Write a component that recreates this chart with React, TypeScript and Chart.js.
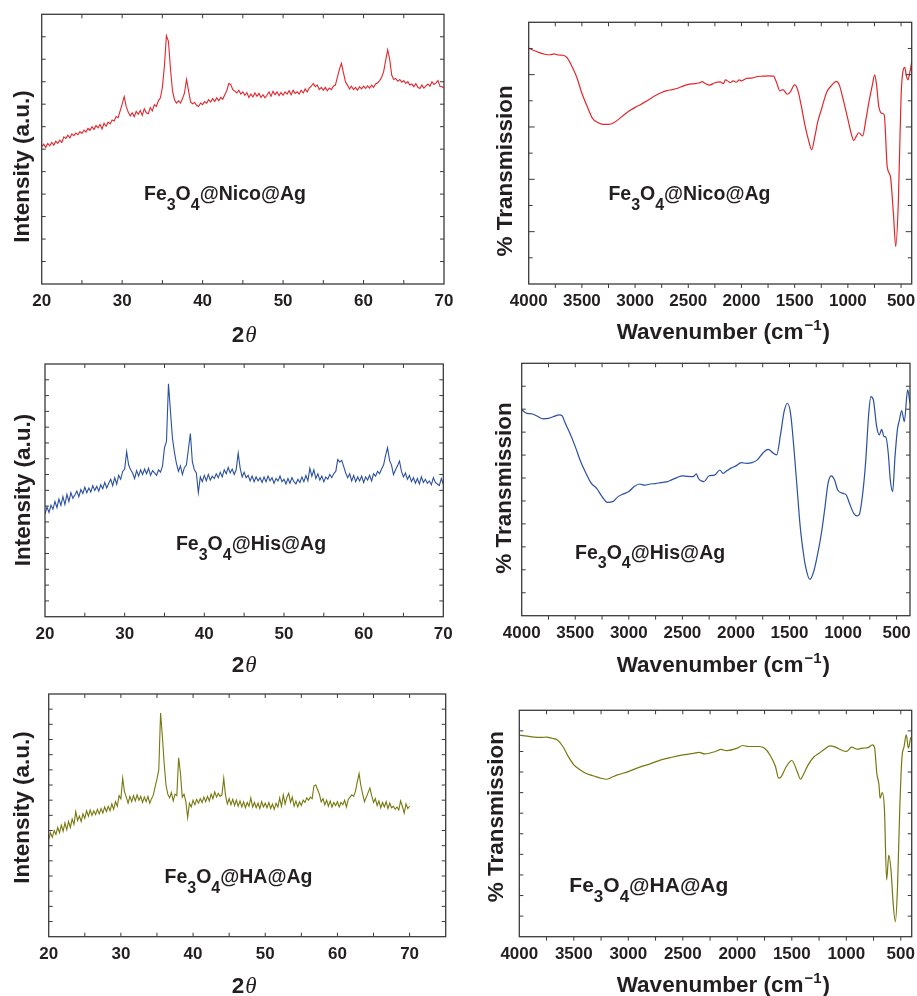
import React, { useEffect, useRef } from 'react';
import { Chart, registerables } from 'chart.js';

Chart.register(...registerables);

const FONT = "'Liberation Sans', Arial, Helvetica, sans-serif";
const SERIF = "'Liberation Serif', 'Times New Roman', serif";
const TEXT_COLOR = '#231f20';
const AXIS_COLOR = '#3a3a3a';

const RED = '#e3262c';
const BLUE = '#2a4fa3';
const OLIVE = '#77780f';

// ---------- XRD data (2θ from 20 to 70, 0.25° sampling) ----------
const XRD_START = 20;
const XRD_STEP = 0.25;

const XRD_NICO = [
  6.11, 6.22, 6.08, 6.25, 6.15, 6.30, 6.18, 6.35,
  6.26, 6.40, 6.30, 6.55, 6.48, 6.62, 6.50, 6.68,
  6.60, 6.72, 6.64, 6.78, 6.70, 6.85, 6.76, 6.92,
  6.84, 7.00, 6.88, 7.05, 6.95, 7.10, 6.90, 7.15,
  7.02, 7.20, 7.12, 7.30, 7.25, 7.45, 7.40, 7.70,
  8.00, 8.34, 7.90, 7.65, 7.48, 7.62, 7.45, 7.68,
  7.55, 7.72, 7.50, 7.80, 7.62, 7.58, 7.85, 7.70,
  7.98, 7.90, 8.15, 8.28, 8.75, 9.70, 11.05, 10.80,
  9.60, 8.60, 8.20, 8.05, 8.15, 8.05, 8.25, 8.50,
  9.10, 8.60, 8.10, 8.02, 8.08, 7.95, 7.90, 8.05,
  7.98, 8.12, 8.05, 8.20, 8.10, 8.25, 8.12, 8.28,
  8.15, 8.30, 8.22, 8.42, 8.60, 8.92, 8.88, 8.65,
  8.58, 8.50, 8.62, 8.45, 8.55, 8.40, 8.52, 8.30,
  8.45, 8.32, 8.50, 8.35, 8.48, 8.30, 8.42, 8.28,
  8.40, 8.55, 8.35, 8.58, 8.42, 8.55, 8.38, 8.52,
  8.40, 8.55, 8.45, 8.60, 8.42, 8.62, 8.48, 8.55,
  8.45, 8.62, 8.50, 8.68, 8.55, 8.72, 8.80, 8.92,
  8.78, 8.85, 8.65, 8.75, 8.62, 8.75, 8.60, 8.72,
  8.65, 8.80, 8.85, 9.20, 9.55, 9.82, 9.40, 9.00,
  8.85, 8.68, 8.80, 8.65, 8.75, 8.62, 8.78, 8.68,
  8.80, 8.70, 8.82, 8.72, 8.85, 8.75, 8.90, 8.95,
  9.05, 9.20, 9.45, 9.95, 10.42, 10.00, 9.30, 9.10,
  9.15, 9.02, 9.10, 8.98, 9.05, 8.92, 9.00, 8.85,
  8.90, 8.78, 8.92, 8.75, 8.70, 8.85, 8.72, 8.82,
  8.90, 8.80, 9.00, 8.88, 8.95, 9.05, 8.80, 8.78,
  8.72,
];

const XRD_HIS = [
  6.50, 6.95, 6.60, 7.05, 6.80, 7.30, 6.90, 7.45,
  7.05, 7.60, 7.10, 7.75, 7.30, 7.85, 7.50, 7.70,
  7.95, 7.60, 8.05, 7.80, 8.20, 7.85, 8.15, 7.90,
  8.30, 8.00, 8.25, 7.95, 8.35, 8.10, 8.50, 8.15,
  8.45, 8.70, 8.30, 8.80, 8.40, 8.95, 8.70, 9.20,
  9.35, 10.45, 9.60, 9.30, 9.10, 8.75, 9.25, 8.90,
  9.30, 9.00, 9.35, 9.05, 9.40, 8.95, 9.25, 9.10,
  8.95, 9.30, 9.15, 9.55, 10.70, 11.10, 14.75, 13.00,
  11.30, 10.40, 9.70, 9.20, 9.55, 9.00, 9.45, 9.60,
  10.60, 11.60, 9.80, 9.30, 9.10, 7.85, 8.85, 8.55,
  8.95, 8.60, 9.00, 8.65, 8.90, 8.75, 9.05, 8.80,
  9.15, 8.85, 9.30, 9.05, 9.45, 9.10, 9.35, 9.00,
  9.30, 10.35, 9.40, 8.85, 9.15, 8.80, 8.95, 8.60,
  8.90, 8.55, 8.85, 8.60, 8.80, 8.50, 8.85, 8.55,
  8.90, 8.60, 8.80, 8.45, 8.75, 8.60, 8.90, 8.55,
  8.70, 8.40, 8.75, 8.45, 8.80, 8.55, 8.40, 8.70,
  8.50, 8.85, 8.55, 8.95, 8.60, 9.40, 8.90, 9.30,
  8.75, 9.05, 8.65, 8.90, 8.55, 8.85, 8.70, 9.00,
  8.80, 9.05, 9.20, 9.95, 9.80, 9.90, 9.50, 9.10,
  8.80, 9.05, 8.60, 8.95, 8.55, 8.85, 8.60, 8.90,
  8.50, 8.85, 8.65, 8.95, 8.60, 9.05, 8.90, 9.20,
  9.05, 9.35, 9.60, 10.20, 10.70, 9.90, 9.60, 9.00,
  9.30, 9.55, 9.85, 9.20, 8.85, 9.10, 8.70, 8.95,
  8.55, 8.80, 8.45, 8.75, 8.40, 8.85, 8.50, 8.70,
  8.45, 8.60, 8.35, 8.80, 8.50, 8.40, 8.30, 8.75,
  8.40,
];

const XRD_HA = [
  6.40, 6.85, 6.55, 7.00, 6.75, 7.20, 6.85, 7.35,
  6.95, 7.50, 7.05, 7.60, 7.20, 7.75, 7.40, 8.25,
  7.65, 7.95, 7.60, 8.10, 7.80, 8.30, 7.95, 8.35,
  8.00, 8.30, 8.05, 8.40, 8.10, 8.45, 8.15, 8.55,
  8.25, 8.60, 8.30, 8.75, 8.40, 8.90, 8.60, 9.30,
  9.10, 10.45, 9.55, 9.20, 8.80, 9.25, 8.90, 9.30,
  8.95, 9.35, 9.00, 9.25, 8.85, 9.20, 8.90, 9.25,
  8.80, 9.10, 9.35, 9.90, 10.40, 11.00, 14.75, 13.20,
  11.40, 10.00, 9.40, 9.15, 9.50, 8.95, 9.40, 9.30,
  11.80, 10.80, 9.20, 9.40, 8.90, 7.85, 8.80, 8.55,
  9.00, 8.70, 9.05, 8.80, 9.10, 8.85, 9.20, 8.90,
  9.25, 8.95, 9.40, 9.10, 9.55, 9.20, 9.45, 9.25,
  9.35, 10.45, 9.30, 8.75, 9.10, 8.70, 9.05, 8.65,
  9.00, 8.60, 8.95, 8.55, 8.90, 8.50, 8.85, 8.60,
  9.15, 8.55, 8.85, 8.50, 8.80, 8.45, 8.90, 8.55,
  8.80, 8.50, 8.85, 8.45, 8.75, 8.40, 8.80, 8.55,
  9.15, 8.60, 9.35, 8.75, 9.20, 9.45, 8.85, 9.20,
  8.60, 8.95, 8.55, 8.90, 8.65, 9.00, 8.85, 9.15,
  9.00, 9.20, 9.10, 9.95, 10.00, 9.70, 9.40, 8.90,
  9.10, 8.70, 9.00, 8.60, 8.95, 8.55, 8.85, 8.65,
  8.90, 8.55, 8.85, 8.70, 9.00, 8.55, 9.05, 9.20,
  9.35, 9.25, 9.60, 10.20, 10.75, 9.95, 9.40, 8.90,
  9.20, 9.50, 9.80, 9.30, 8.85, 9.10, 8.65, 8.95,
  8.50, 8.85, 8.55, 8.90, 8.45, 8.80, 8.50, 8.60,
  8.40, 8.55, 8.35, 8.95, 8.60, 8.15, 8.75, 8.45,
  8.60,
];

// ---------- FTIR data: [wavenumber (cm-1), % transmission (a.u.)] ----------
const FTIR_NICO: [number, number][] = [
  [4000, 90.1], [3950, 89.2], [3900, 88.4], [3850, 87.8], [3800, 87.6], [3760, 87.9],
  [3720, 87.5], [3680, 87.4], [3640, 86.5], [3600, 83.7], [3550, 79.2], [3500, 72.9],
  [3450, 67.8], [3400, 63.3], [3350, 61.7], [3300, 61.0], [3250, 61.0], [3200, 61.6],
  [3150, 63.1], [3100, 64.8], [3050, 66.3], [3000, 67.5], [2950, 68.5], [2900, 69.7],
  [2850, 71.0], [2800, 72.2], [2750, 73.2], [2700, 73.9], [2650, 74.3], [2600, 74.8],
  [2550, 75.6], [2500, 76.3], [2450, 76.5], [2400, 76.8], [2370, 77.3], [2340, 76.6],
  [2300, 76.0], [2250, 76.9], [2200, 77.2], [2170, 76.6], [2150, 78.0], [2120, 77.3],
  [2100, 77.0], [2080, 77.6], [2050, 77.1], [2020, 78.0], [2000, 77.6], [1950, 78.6],
  [1900, 78.7], [1850, 79.3], [1800, 79.4], [1750, 79.5], [1700, 79.4], [1670, 77.0],
  [1640, 73.8], [1610, 74.3], [1570, 72.5], [1540, 73.5], [1500, 76.1], [1470, 74.0],
  [1440, 68.5], [1400, 60.0], [1370, 55.0], [1340, 51.3], [1310, 56.5], [1280, 62.5],
  [1250, 66.5], [1200, 73.2], [1150, 76.0], [1110, 77.4], [1080, 76.0], [1050, 71.5],
  [1000, 63.0], [960, 56.2], [946, 54.8], [920, 56.5], [898, 57.8], [861, 56.6],
  [830, 63.0], [800, 70.0], [770, 76.0], [748, 79.9], [730, 76.0], [710, 68.0],
  [680, 65.2], [658, 64.6], [630, 44.8], [600, 41.0], [570, 25.7], [550, 14.3],
  [525, 32.1], [500, 71.6], [480, 81.8], [465, 82.8], [450, 79.5], [435, 78.0],
  [420, 80.5], [410, 82.5], [400, 85.0],
];

const FTIR_HIS: [number, number][] = [
  [4000, 89.7], [3950, 88.2], [3900, 87.9], [3850, 86.8], [3800, 85.8], [3750, 86.0],
  [3700, 86.8], [3650, 87.5], [3620, 87.0], [3600, 84.6], [3550, 79.5], [3500, 73.7],
  [3450, 67.2], [3400, 62.1], [3350, 57.7], [3300, 55.5], [3250, 51.9], [3200, 49.4],
  [3150, 49.7], [3100, 51.9], [3050, 53.1], [3000, 54.1], [2950, 56.3], [2900, 57.4],
  [2850, 56.9], [2800, 57.4], [2750, 57.6], [2700, 58.0], [2650, 58.3], [2600, 59.2],
  [2550, 60.2], [2500, 60.9], [2450, 60.7], [2400, 60.6], [2370, 61.8], [2350, 59.8],
  [2300, 58.4], [2250, 61.0], [2200, 61.3], [2150, 63.5], [2120, 62.0], [2100, 62.6],
  [2050, 64.2], [2000, 65.3], [1950, 66.7], [1900, 66.4], [1850, 66.7], [1800, 67.9],
  [1750, 70.8], [1700, 72.5], [1650, 70.8], [1620, 70.1], [1582, 79.5], [1550, 89.0],
  [1520, 92.6], [1490, 88.2], [1460, 73.7], [1430, 56.3], [1400, 38.8], [1370, 27.2],
  [1350, 21.4], [1310, 15.8], [1270, 19.9], [1230, 28.6], [1200, 36.6], [1170, 46.8],
  [1140, 57.7], [1110, 60.9], [1080, 59.2], [1050, 54.8], [1000, 53.3], [970, 52.6],
  [940, 49.0], [900, 44.6], [870, 43.5], [850, 43.9], [820, 51.9], [790, 66.4],
  [760, 88.2], [740, 95.5], [717, 94.0], [686, 82.4], [661, 78.8], [640, 81.2],
  [618, 78.1], [600, 77.8], [578, 70.8], [559, 59.2], [537, 54.1], [515, 69.3],
  [493, 81.0], [475, 85.0], [453, 89.4], [428, 84.6], [397, 98.4], [375, 92.6],
];

const FTIR_HA: [number, number][] = [
  [4000, 97.9], [3900, 97.2], [3800, 96.8], [3750, 97.0], [3700, 96.4], [3650, 95.6],
  [3600, 92.4], [3550, 87.5], [3500, 83.5], [3450, 81.4], [3400, 79.7], [3350, 78.6],
  [3300, 77.8], [3250, 77.0], [3200, 76.5], [3150, 77.5], [3100, 78.6], [3000, 80.2],
  [2900, 82.3], [2800, 84.0], [2700, 85.9], [2600, 87.2], [2500, 88.3], [2400, 89.1],
  [2350, 89.6], [2300, 88.8], [2200, 90.0], [2150, 91.0], [2100, 90.4], [2000, 91.6],
  [1950, 92.9], [1900, 92.4], [1800, 92.4], [1750, 91.6], [1700, 88.3], [1650, 82.7],
  [1620, 77.0], [1600, 77.5], [1550, 82.7], [1500, 85.6], [1450, 80.2], [1420, 76.5],
  [1400, 78.1], [1350, 83.5], [1300, 87.2], [1250, 89.1], [1200, 91.1], [1150, 92.7],
  [1100, 92.1], [1050, 90.8], [1000, 90.0], [950, 92.1], [900, 91.1], [850, 91.6],
  [800, 91.9], [760, 93.2], [740, 91.6], [720, 79.4], [700, 73.7], [690, 67.3],
  [670, 70.0], [650, 61.6], [630, 27.6], [610, 39.7], [590, 32.4], [570, 16.2],
  [550, 7.3], [530, 24.3], [510, 61.6], [490, 86.7], [470, 92.4], [450, 98.1],
  [430, 91.6], [410, 96.4], [400, 97.2],
];

// ---------- Tick labels / titles ----------
const XRD_TICKS = [20, 30, 40, 50, 60, 70];
const FTIR_TICKS = [4000, 3500, 3000, 2500, 2000, 1500, 1000, 500];
const XRD_MINOR_STEP = 5;
const FTIR_MINOR_STEP = 250;
const Y_TITLE_XRD = 'Intensity (a.u.)';
const Y_TITLE_FTIR = '% Transmission';
const SAMPLE_NICO = 'Nico';
const SAMPLE_HIS = 'His';
const SAMPLE_HA = 'HA';

type Rect = { x: number; y: number; w: number; h: number };
type PlotBox = { l: number; r: number; t: number; b: number };

type Panel = {
  canvas: Rect;
  plot: PlotBox;
  kind: 'xrd' | 'ftir';
  points: { x: number; y: number }[];
  color: string;
  xMin: number;
  xMax: number;
  yMax: number;
  yStep: number;
  yTitle: string;
  yTitlePos: { bx: number; cy: number };
  xTitlePos: { x0: number; baseline: number };
  sample: string;
  labelAt: { x: number; y: number };
  labelSize: number;
};

const xrdPoints = (vals: number[]) => vals.map((v, i) => ({ x: XRD_START + i * XRD_STEP, y: v }));
const ftirPoints = (pairs: [number, number][]) => pairs.map(([w, t]) => ({ x: w, y: t }));

const PANELS: Panel[] = [
  {
    canvas: { x: 0, y: 0, w: 460, h: 350 },
    plot: { l: 41.7, r: 444, t: 14.3, b: 284 },
    kind: 'xrd', points: xrdPoints(XRD_NICO), color: RED,
    xMin: 20, xMax: 70, yMax: 12, yStep: 1,
    yTitle: Y_TITLE_XRD, yTitlePos: { bx: 29, cy: 166.5 },
    xTitlePos: { x0: 231.7, baseline: 341.5 },
    sample: SAMPLE_NICO, labelAt: { x: 32.71, y: 3.74 }, labelSize: 19.5,
  },
  {
    canvas: { x: 460, y: 0, w: 457, h: 350 },
    plot: { l: 528.7, r: 911.7, t: 22.3, b: 284 },
    kind: 'ftir', points: ftirPoints(FTIR_NICO), color: RED,
    xMin: 400, xMax: 4000, yMax: 100, yStep: 10,
    yTitle: Y_TITLE_FTIR, yTitlePos: { bx: 512, cy: 170.8 },
    xTitlePos: { x0: 616.7, baseline: 339.3 },
    sample: SAMPLE_NICO, labelAt: { x: 3251, y: 32.0 }, labelSize: 19.5,
  },
  {
    canvas: { x: 0, y: 334, w: 460, h: 346 },
    plot: { l: 45, r: 443.3, t: 364, b: 616.7 },
    kind: 'xrd', points: xrdPoints(XRD_HIS), color: BLUE,
    xMin: 20, xMax: 70, yMax: 16, yStep: 1,
    yTitle: Y_TITLE_XRD, yTitlePos: { bx: 29.5, cy: 490 },
    xTitlePos: { x0: 231.7, baseline: 671.7 },
    sample: SAMPLE_HIS, labelAt: { x: 36.44, y: 4.21 }, labelSize: 19.5,
  },
  {
    canvas: { x: 460, y: 334, w: 457, h: 346 },
    plot: { l: 521.7, r: 910, t: 363.3, b: 615.7 },
    kind: 'ftir', points: ftirPoints(FTIR_HIS), color: BLUE,
    xMin: 375, xMax: 4000, yMax: 110, yStep: 10,
    yTitle: Y_TITLE_FTIR, yTitlePos: { bx: 510.5, cy: 488 },
    xTitlePos: { x0: 616.7, baseline: 671.7 },
    sample: SAMPLE_HIS, labelAt: { x: 3502, y: 24.9 }, labelSize: 19.5,
  },
  {
    canvas: { x: 0, y: 664, w: 460, h: 332 },
    plot: { l: 48.7, r: 445.7, t: 694, b: 936.7 },
    kind: 'xrd', points: xrdPoints(XRD_HA), color: OLIVE,
    xMin: 20, xMax: 75, yMax: 16, yStep: 1,
    yTitle: Y_TITLE_XRD, yTitlePos: { bx: 28.7, cy: 807.5 },
    xTitlePos: { x0: 231.7, baseline: 992.5 },
    sample: SAMPLE_HA, labelAt: { x: 36.04, y: 3.51 }, labelSize: 19.5,
  },
  {
    canvas: { x: 460, y: 664, w: 457, h: 332 },
    plot: { l: 519.3, r: 911.7, t: 710.3, b: 936.7 },
    kind: 'ftir', points: ftirPoints(FTIR_HA), color: OLIVE,
    xMin: 400, xMax: 4000, yMax: 110, yStep: 10,
    yTitle: Y_TITLE_FTIR, yTitlePos: { bx: 503, cy: 816.7 },
    xTitlePos: { x0: 616.7, baseline: 991.5 },
    sample: SAMPLE_HA, labelAt: { x: 3541, y: 21.8 }, labelSize: 21,
  },
];

function makeDecor(p: Panel) {
  return {
    id: 'decor',
    afterDraw(chart: any) {
      const { ctx, chartArea: a, scales } = chart;
      const xs = scales.x;
      const ys = scales.y;
      const ox = p.canvas.x;
      const oy = p.canvas.y;
      ctx.save();

      // frame
      ctx.strokeStyle = AXIS_COLOR;
      ctx.lineWidth = 1.3;
      ctx.strokeRect(a.left, a.top, a.right - a.left, a.bottom - a.top);

      // ticks
      ctx.lineWidth = 1;
      ctx.beginPath();
      const minor = p.kind === 'xrd' ? XRD_MINOR_STEP : FTIR_MINOR_STEP;
      const lo = Math.ceil(p.xMin / minor);
      const hi = Math.floor(p.xMax / minor);
      const bottomDir = p.kind === 'xrd' ? -1 : 1;
      for (let k = lo; k <= hi; k++) {
        const v = k * minor;
        const px = xs.getPixelForValue(v);
        if (px < a.left + 0.5 || px > a.right - 0.5) continue;
        const len = 4;
        ctx.moveTo(px, a.bottom);
        ctx.lineTo(px, a.bottom + bottomDir * len);
        ctx.moveTo(px, a.top);
        ctx.lineTo(px, a.top + len);
      }
      const ny = Math.round(p.yMax / p.yStep);
      for (let k = 1; k < ny; k++) {
        const py = ys.getPixelForValue(k * p.yStep);
        const len = p.kind === 'ftir' && k % 2 === 0 && p.yMax === 100 ? 6 : 4;
        ctx.moveTo(a.left, py);
        ctx.lineTo(a.left + len, py);
        ctx.moveTo(a.right, py);
        ctx.lineTo(a.right - len, py);
      }
      ctx.stroke();

      ctx.fillStyle = TEXT_COLOR;
      ctx.textBaseline = 'alphabetic';

      // sample label with subscripts
      const lx = xs.getPixelForValue(p.labelAt.x);
      const ly = ys.getPixelForValue(p.labelAt.y);
      const main = p.labelSize;
      const sub = Math.round(main * 0.82);
      const parts: [string, boolean][] = [
        ['Fe', false], ['3', true], ['O', false], ['4', true], ['@' + p.sample + '@Ag', false],
      ];
      ctx.textAlign = 'left';
      let cx = lx;
      for (const [txt, isSub] of parts) {
        ctx.font = `bold ${isSub ? sub : main}px ${FONT}`;
        ctx.fillText(txt, cx, isSub ? ly + main * 0.5 : ly);
        cx += ctx.measureText(txt).width;
      }

      // y title
      ctx.save();
      ctx.translate(p.yTitlePos.bx - ox, p.yTitlePos.cy - oy);
      ctx.rotate(-Math.PI / 2);
      ctx.font = `bold 22.5px ${FONT}`;
      ctx.textAlign = 'center';
      ctx.fillText(p.yTitle, 0, 0);
      ctx.restore();

      // x title
      const tx = p.xTitlePos.x0 - ox;
      const ty = p.xTitlePos.baseline - oy;
      ctx.textAlign = 'left';
      if (p.kind === 'xrd') {
        ctx.font = `bold 22.5px ${FONT}`;
        ctx.fillText('2', tx, ty);
        const w2 = ctx.measureText('2').width;
        ctx.font = `italic 23px ${SERIF}`;
        ctx.fillText('θ', tx + w2 + 1, ty);
      } else {
        ctx.font = `bold 22.5px ${FONT}`;
        const a1 = 'Wavenumber (cm';
        ctx.fillText(a1, tx, ty);
        let x2 = tx + ctx.measureText(a1).width + 1;
        ctx.font = `bold 15px ${FONT}`;
        ctx.fillText('\u22121', x2, ty - 9);
        x2 += ctx.measureText('\u22121').width + 1;
        ctx.font = `bold 22.5px ${FONT}`;
        ctx.fillText(')', x2, ty);
      }
      ctx.restore();
    },
  };
}

function PanelChart({ p }: { p: Panel }) {
  const ref = useRef<HTMLCanvasElement | null>(null);
  useEffect(() => {
    if (!ref.current) return;
    const yW = p.plot.l - p.canvas.x;
    const xH = p.canvas.y + p.canvas.h - p.plot.b;
    const padTop = p.plot.t - p.canvas.y;
    const padRight = p.canvas.x + p.canvas.w - p.plot.r;
    const isFtir = p.kind === 'ftir';
    const tickValues = isFtir ? FTIR_TICKS : XRD_TICKS;
    const chart = new Chart(ref.current, {
      type: 'line',
      data: {
        datasets: [
          {
            data: p.points,
            borderColor: p.color,
            borderWidth: isFtir ? 1.2 : 1.1,
            pointRadius: 0,
            fill: false,
            tension: isFtir ? 0.4 : 0,
            cubicInterpolationMode: isFtir ? 'monotone' : 'default',
          } as any,
        ],
      },
      options: {
        animation: false,
        responsive: false,
        maintainAspectRatio: false,
        devicePixelRatio: 1,
        events: [],
        layout: { padding: { top: padTop, right: padRight, left: 0, bottom: 0 } },
        plugins: {
          legend: { display: false },
          tooltip: { enabled: false },
          title: { display: false },
        },
        scales: {
          x: {
            type: 'linear',
            min: p.xMin,
            max: p.xMax,
            reverse: isFtir,
            border: { display: false },
            grid: { display: false, drawTicks: false },
            afterBuildTicks: (s: any) => {
              s.ticks = tickValues.map((v) => ({ value: v }));
            },
            ticks: {
              autoSkip: false,
              maxRotation: 0,
              minRotation: 0,
              padding: 7,
              color: TEXT_COLOR,
              font: { family: FONT, size: 17, weight: 'bold' },
              callback: (v: any) => String(v),
            },
            afterFit: (s: any) => {
              s.height = xH;
              s.paddingLeft = 0;
              s.paddingRight = 0;
            },
          },
          y: {
            type: 'linear',
            min: 0,
            max: p.yMax,
            border: { display: false },
            grid: { display: false, drawTicks: false },
            ticks: { display: false },
            afterFit: (s: any) => {
              s.width = yW;
              s.paddingTop = 0;
              s.paddingBottom = 0;
            },
          },
        },
      } as any,
      plugins: [makeDecor(p)],
    });
    return () => chart.destroy();
  }, [p]);

  return (
    <canvas
      ref={ref}
      width={p.canvas.w}
      height={p.canvas.h}
      style={{
        position: 'absolute',
        left: p.canvas.x,
        top: p.canvas.y,
        width: p.canvas.w,
        height: p.canvas.h,
      }}
    />
  );
}

export default function App() {
  return (
    <div
      style={{
        position: 'absolute',
        left: 0,
        top: 0,
        width: 917,
        height: 996,
        background: '#ffffff',
        overflow: 'hidden',
      }}
    >
      {PANELS.map((p, i) => (
        <PanelChart key={i} p={p} />
      ))}
    </div>
  );
}
